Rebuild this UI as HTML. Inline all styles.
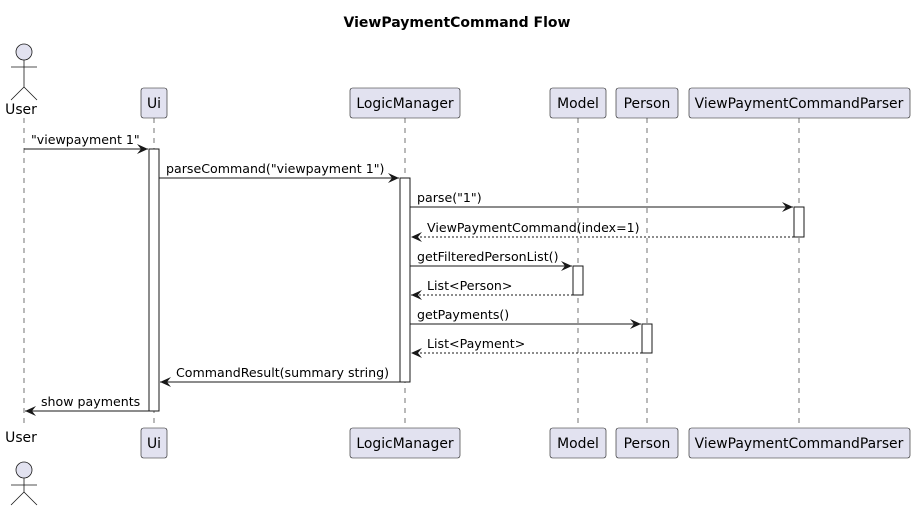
<!DOCTYPE html>
<html><head><style>body{margin:0;background:#fff}svg{display:block}text{font-family:"DejaVu Sans",sans-serif;font-size:12.6px;fill:#000}text.p{font-size:13.9px}</style></head><body>
<svg width="915" height="509" xmlns="http://www.w3.org/2000/svg">
<defs><marker id="a" markerWidth="12" markerHeight="10" refX="11" refY="5" orient="auto" markerUnits="userSpaceOnUse"><path d="M0,0 L11,5 L0,10 L4,5 Z" fill="#181818"/></marker></defs>
<text x="457" y="27" text-anchor="middle" style="font-weight:bold;font-size:14px">ViewPaymentCommand Flow</text>
<g stroke="#181818" stroke-width="0.6" stroke-dasharray="5,5">
<line x1="24" y1="118" x2="24" y2="428"/><line x1="154" y1="118" x2="154" y2="428"/><line x1="405" y1="118" x2="405" y2="428"/><line x1="578" y1="118" x2="578" y2="428"/><line x1="647" y1="118" x2="647" y2="428"/><line x1="799" y1="118" x2="799" y2="428"/>
</g>
<g fill="#E2E2F0" stroke="#181818" stroke-width="0.6">
<rect x="141" y="88" width="26" height="30" rx="2.5"/><rect x="350" y="88" width="110" height="30" rx="2.5"/><rect x="550" y="88" width="56" height="30" rx="2.5"/><rect x="616" y="88" width="62" height="30" rx="2.5"/><rect x="689" y="88" width="221" height="30" rx="2.5"/>
<rect x="141" y="428" width="26" height="30" rx="2.5"/><rect x="350" y="428" width="110" height="30" rx="2.5"/><rect x="550" y="428" width="56" height="30" rx="2.5"/><rect x="616" y="428" width="62" height="30" rx="2.5"/><rect x="689" y="428" width="221" height="30" rx="2.5"/>
</g>
<g text-anchor="middle">
<text class="p" x="154" y="108">Ui</text><text class="p" x="405" y="108">LogicManager</text><text class="p" x="578" y="108">Model</text><text class="p" x="647" y="108">Person</text><text class="p" x="799" y="108">ViewPaymentCommandParser</text>
<text class="p" x="154" y="448">Ui</text><text class="p" x="405" y="448">LogicManager</text><text class="p" x="578" y="448">Model</text><text class="p" x="647" y="448">Person</text><text class="p" x="799" y="448">ViewPaymentCommandParser</text>
<text class="p" x="21" y="114">User</text><text class="p" x="21" y="442">User</text>
</g>
<g fill="#E2E2F0" stroke="#181818" stroke-width="0.8">
<circle cx="24" cy="52" r="8"/><circle cx="24" cy="470" r="8"/>
</g>
<g stroke="#181818" stroke-width="0.8" fill="none">
<path d="M24,60 V87 M11,67 H37 M24,87 L11,100 M24,87 L37,100"/>
<path d="M24,478 V492 M11,485 H37 M24,492 L11,505 M24,492 L37,505"/>
</g>
<g fill="#fff" stroke="#181818" stroke-width="1">
<rect x="149" y="149" width="10" height="262"/><rect x="400" y="178" width="10" height="204"/><rect x="794" y="207" width="10" height="30"/><rect x="573" y="266" width="10" height="29"/><rect x="642" y="324" width="10" height="29"/>
</g>
<g stroke="#181818" stroke-width="1" marker-end="url(#a)">
<line x1="24" y1="149" x2="148" y2="149"/>
<line x1="159" y1="178" x2="399" y2="178"/>
<line x1="410" y1="207" x2="793" y2="207"/>
<line x1="794" y1="237" x2="411" y2="237" stroke-dasharray="2,2"/>
<line x1="410" y1="266" x2="572" y2="266"/>
<line x1="573" y1="295" x2="411" y2="295" stroke-dasharray="2,2"/>
<line x1="410" y1="324" x2="641" y2="324"/>
<line x1="642" y1="353" x2="411" y2="353" stroke-dasharray="2,2"/>
<line x1="400" y1="382" x2="160" y2="382"/>
<line x1="149" y1="411" x2="25" y2="411"/>
</g>
<text x="31" y="144">"viewpayment 1"</text>
<text x="166" y="173">parseCommand("viewpayment 1")</text>
<text x="417" y="202">parse("1")</text>
<text x="427" y="232">ViewPaymentCommand(index=1)</text>
<text x="417" y="261">getFilteredPersonList()</text>
<text x="427" y="290">List&lt;Person&gt;</text>
<text x="417" y="319">getPayments()</text>
<text x="427" y="348">List&lt;Payment&gt;</text>
<text x="176" y="377">CommandResult(summary string)</text>
<text x="41" y="406">show payments</text>
</svg>
</body></html>
